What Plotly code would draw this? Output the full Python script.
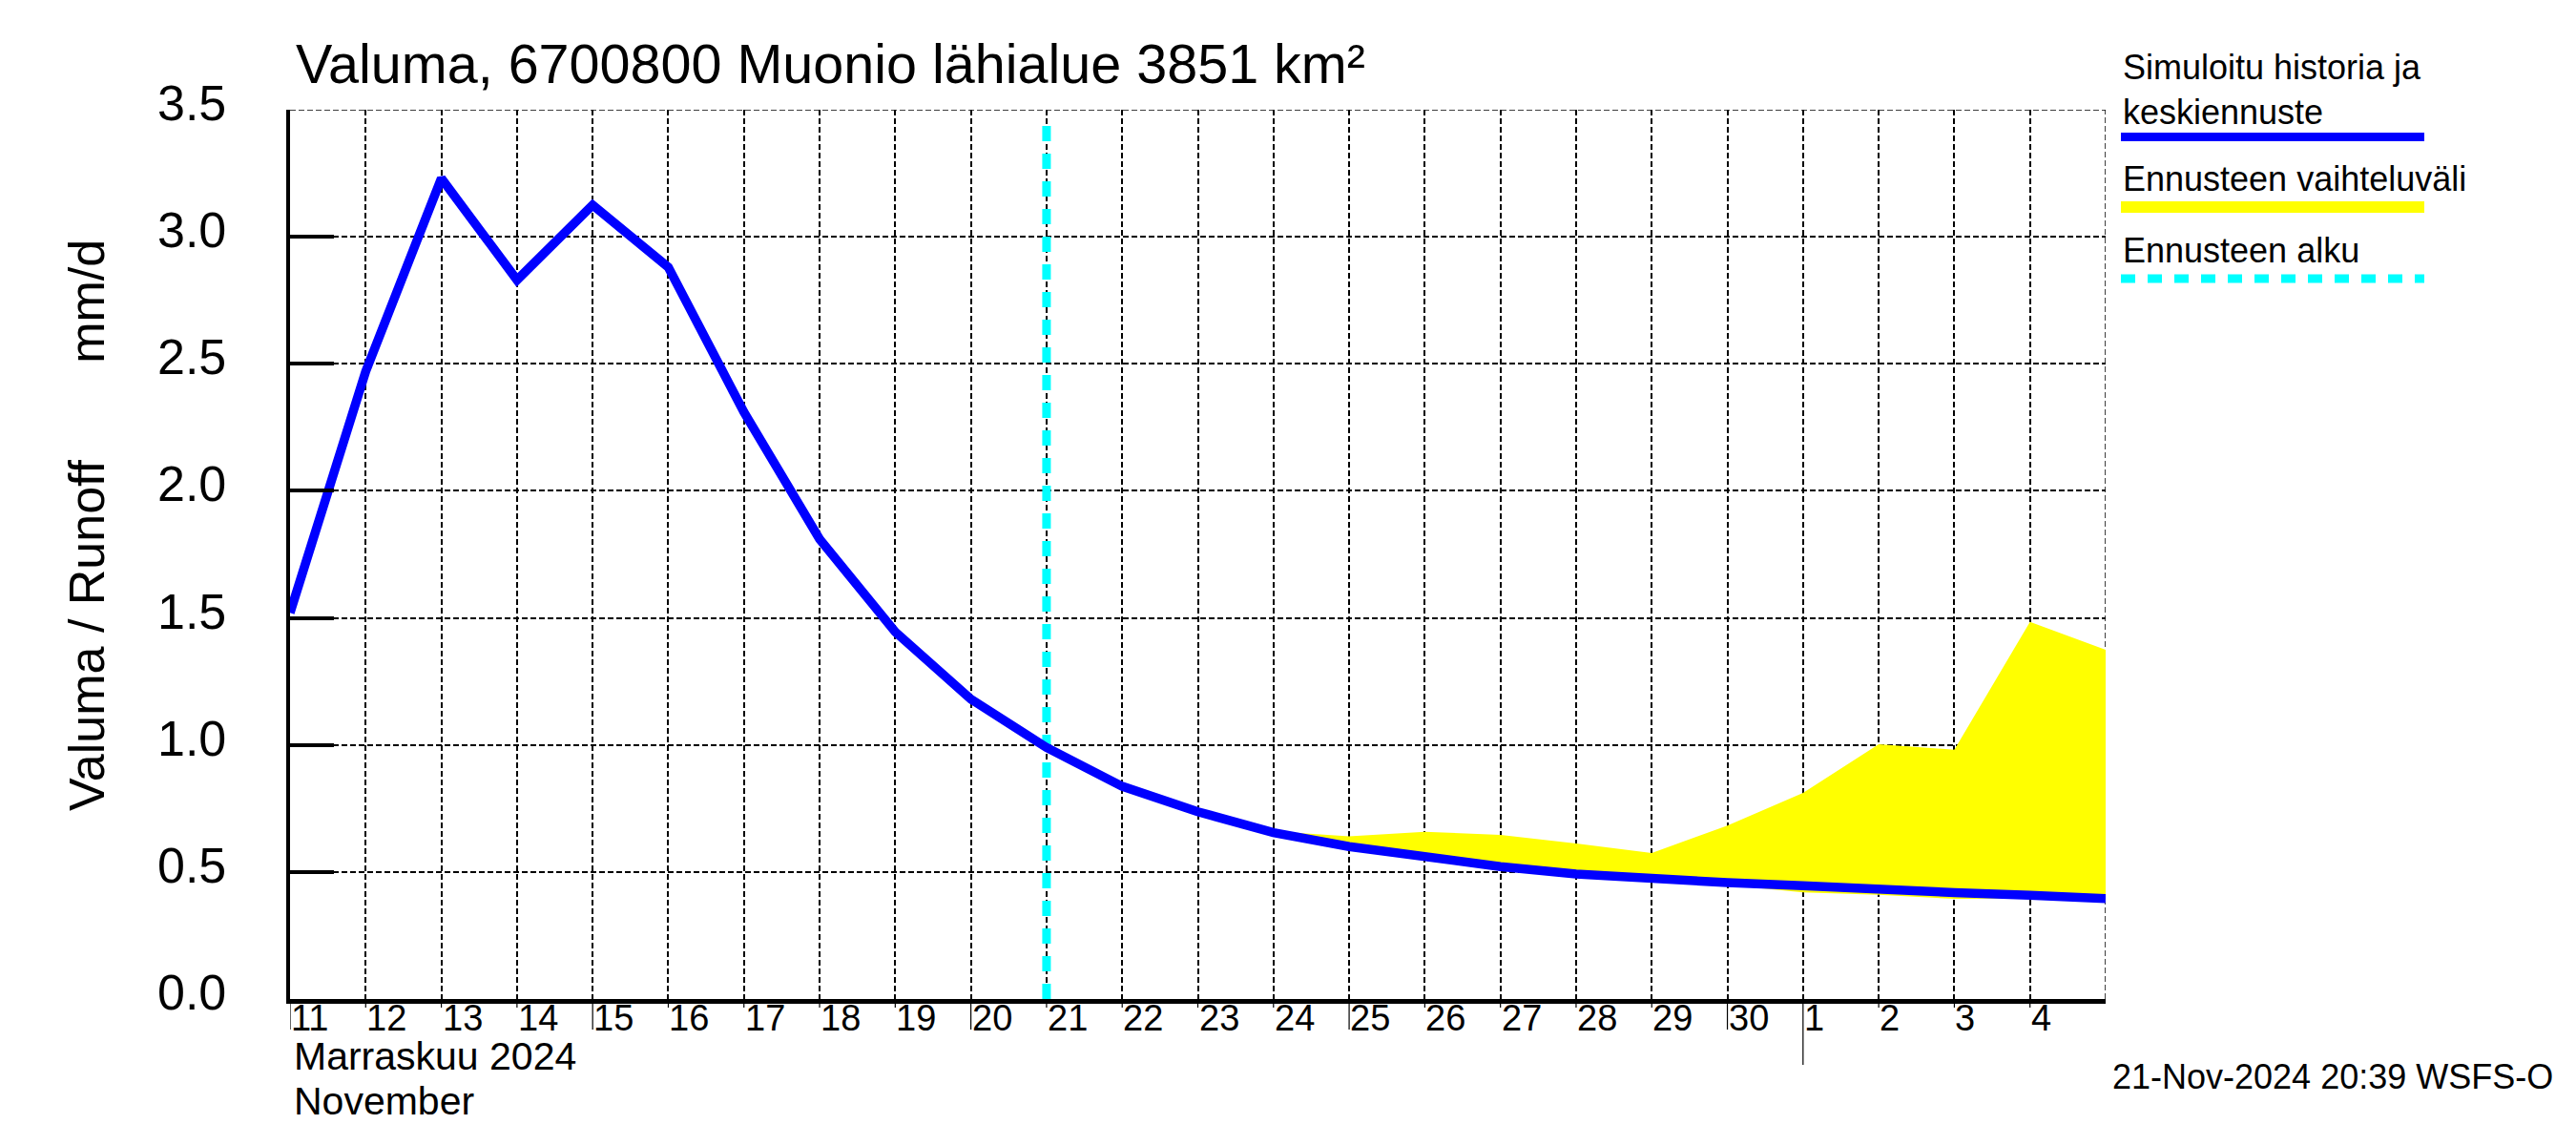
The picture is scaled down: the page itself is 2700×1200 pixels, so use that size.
import pandas as pd
import plotly.graph_objects as go

# ---------------- data ----------------
sim_dates = pd.date_range("2024-11-11", "2024-12-05", freq="D")
runoff = [1.52, 2.47, 3.23, 2.83, 3.125, 2.88, 2.31, 1.81, 1.445, 1.18,
          0.99, 0.837, 0.737, 0.655, 0.60, 0.556, 0.521, 0.492, 0.473, 0.458,
          0.446, 0.429, 0.419, 0.408, 0.395]

band_dates = pd.date_range("2024-11-21", "2024-12-05", freq="D")
band_upper = [0.99, 0.84, 0.74, 0.66, 0.64, 0.658, 0.646, 0.612, 0.575, 0.683,
              0.811, 1.003, 0.981, 1.484, 1.374]
band_lower = [0.99, 0.835, 0.735, 0.652, 0.597, 0.552, 0.516, 0.487, 0.466, 0.449,
              0.42, 0.41, 0.394, 0.395, 0.385]

forecast_start = pd.Timestamp("2024-11-21")
x_start, x_end = "2024-11-11", "2024-12-05"
y_ticks = [0.0, 0.5, 1.0, 1.5, 2.0, 2.5, 3.0, 3.5]
y_ticktext = ["0.0", "0.5", "1.0", "1.5", "2.0", "2.5", "3.0", "3.5"]
tick_days = pd.date_range("2024-11-11", "2024-12-04", freq="D")

title_text = "Valuma, 6700800 Muonio lähialue 3851 km²"
ytitle_text = "Valuma / Runoff" + "\u00a0" * 7 + "mm/d"
month_fi = "Marraskuu 2024"
month_en = "November"
footer_text = "21-Nov-2024 20:39 WSFS-O"
legend_labels = ["Simuloitu historia ja<br>keskiennuste", "Ennusteen vaihteluväli", "Ennusteen alku"]

# ---------------- geometry helpers ----------------
W, H = 2700, 1200
L, R, T, B = 304, 2207, 115, 1047
FONT = "Liberation Sans, Arial, Helvetica, sans-serif"
GRID = dict(color="black", width=1.5, dash="6px,3px")


def px_x(p):
    return (p - L) / (R - L)


def px_y(p):
    return (B - p) / (B - T)


fig = go.Figure()

# forecast start line (drawn under data)
fig.add_trace(go.Scatter(
    x=[forecast_start, forecast_start], y=[0, 3.466], mode="lines",
    line=dict(color="#00FFFF", width=9, dash="16px,13px"),
    showlegend=False, hoverinfo="skip"))

# forecast band
fig.add_trace(go.Scatter(x=band_dates, y=band_lower, mode="lines",
                         line=dict(width=0, color="yellow"), showlegend=False))
fig.add_trace(go.Scatter(x=band_dates, y=band_upper, mode="lines",
                         line=dict(width=0, color="yellow"), fill="tonexty",
                         fillcolor="#FFFF00", showlegend=False))

# simulated runoff
fig.add_trace(go.Scatter(x=sim_dates, y=runoff, mode="lines",
                         line=dict(color="#0000FF", width=9.5), showlegend=False))

fig.update_xaxes(
    type="date", range=[x_start, x_end],
    tickvals=list(tick_days) + [pd.Timestamp(x_end)], showticklabels=False, ticks="",
    showgrid=True, gridcolor="black", gridwidth=1.5, griddash="6px,3px",
    showline=True, linecolor="black", linewidth=5, zeroline=False,
)
fig.update_yaxes(
    range=[0, 3.5], tickvals=y_ticks, showticklabels=False,
    ticks="inside", ticklen=46, tickwidth=3.5, tickcolor="black",
    showgrid=True, gridcolor="black", gridwidth=1.5, griddash="6px,3px",
    showline=True, linecolor="black", linewidth=4, zeroline=False,
)

shapes = [
    # top and right border gridlines (dashed)
    dict(type="line", xref="paper", yref="y", x0=0, x1=1, y0=y_ticks[-1], y1=y_ticks[-1],
         line=GRID, layer="below"),
    dict(type="line", xref="x", yref="paper", x0=x_end, x1=x_end, y0=0, y1=1,
         line=GRID, layer="below"),
]
annotations = []

# y tick labels
for v, t in zip(y_ticks, y_ticktext):
    annotations.append(dict(x=px_x(239), y=v, xref="paper", yref="y", text=t,
                            showarrow=False, xanchor="right", yanchor="middle",
                            yshift=7, font=dict(size=52, color="black", family=FONT)))

# x tick marks and day labels
for d in tick_days:
    if d.day == 1:
        ln = 69
    elif d.day % 5 == 0 or d == tick_days[0]:
        ln = 32
    else:
        ln = 9
    shapes.append(dict(type="line", xref="x", yref="paper", x0=d, x1=d,
                       y0=0, y1=-ln / (B - T), line=dict(color="black", width=1.2)))
    annotations.append(dict(x=d, y=px_y(1067), xref="x", yref="paper",
                            text=str(d.day), showarrow=False, xanchor="left",
                            yanchor="middle", xshift=-1,
                            font=dict(size=38, color="black", family=FONT)))

annotations += [
    dict(x=px_x(308), y=px_y(67), xref="paper", yref="paper", text=title_text,
         showarrow=False, xanchor="left", yanchor="middle",
         font=dict(size=57.5, color="black", family=FONT)),
    dict(x=px_x(91), y=px_y(551), xref="paper", yref="paper", text=ytitle_text,
         showarrow=False, textangle=-90, xanchor="center", yanchor="middle",
         font=dict(size=52, color="black", family=FONT)),
    dict(x=px_x(306), y=px_y(1107), xref="paper", yref="paper", text=month_fi,
         showarrow=False, xanchor="left", yanchor="middle",
         font=dict(size=41, color="black", family=FONT)),
    dict(x=px_x(306), y=px_y(1154), xref="paper", yref="paper", text=month_en,
         showarrow=False, xanchor="left", yanchor="middle",
         font=dict(size=41, color="black", family=FONT)),
    dict(x=px_x(2678), y=px_y(1128), xref="paper", yref="paper", text=footer_text,
         showarrow=False, xanchor="right", yanchor="middle",
         font=dict(size=36, color="black", family=FONT)),
]

# legend
leg_x0, leg_x1 = 2223, 2541
annotations += [
    dict(x=px_x(leg_x0), y=px_y(94), xref="paper", yref="paper", text=legend_labels[0],
         showarrow=False, xanchor="left", yanchor="middle", align="left",
         font=dict(size=36, color="black", family=FONT)),
    dict(x=px_x(leg_x0), y=px_y(188), xref="paper", yref="paper", text=legend_labels[1],
         showarrow=False, xanchor="left", yanchor="middle",
         font=dict(size=36, color="black", family=FONT)),
    dict(x=px_x(leg_x0), y=px_y(262), xref="paper", yref="paper", text=legend_labels[2],
         showarrow=False, xanchor="left", yanchor="middle",
         font=dict(size=36, color="black", family=FONT)),
]
shapes += [
    dict(type="line", xref="paper", yref="paper", x0=px_x(leg_x0), x1=px_x(leg_x1),
         y0=px_y(143.5), y1=px_y(143.5), line=dict(color="#0000FF", width=9)),
    dict(type="line", xref="paper", yref="paper", x0=px_x(leg_x0), x1=px_x(leg_x1),
         y0=px_y(217), y1=px_y(217), line=dict(color="#FFFF00", width=12)),
    dict(type="line", xref="paper", yref="paper", x0=px_x(leg_x0), x1=px_x(leg_x1),
         y0=px_y(292), y1=px_y(292), line=dict(color="#00FFFF", width=9, dash="15px,13px")),
]

fig.update_layout(
    width=W, height=H, autosize=False,
    margin=dict(l=L, r=W - R, t=T, b=H - B, pad=0),
    plot_bgcolor="white", paper_bgcolor="white",
    showlegend=False, shapes=shapes, annotations=annotations,
    font=dict(family=FONT, color="black"),
)

fig.write_html("out.html", config={"displayModeBar": False},
               post_script="document.body.style.margin='0px';")
